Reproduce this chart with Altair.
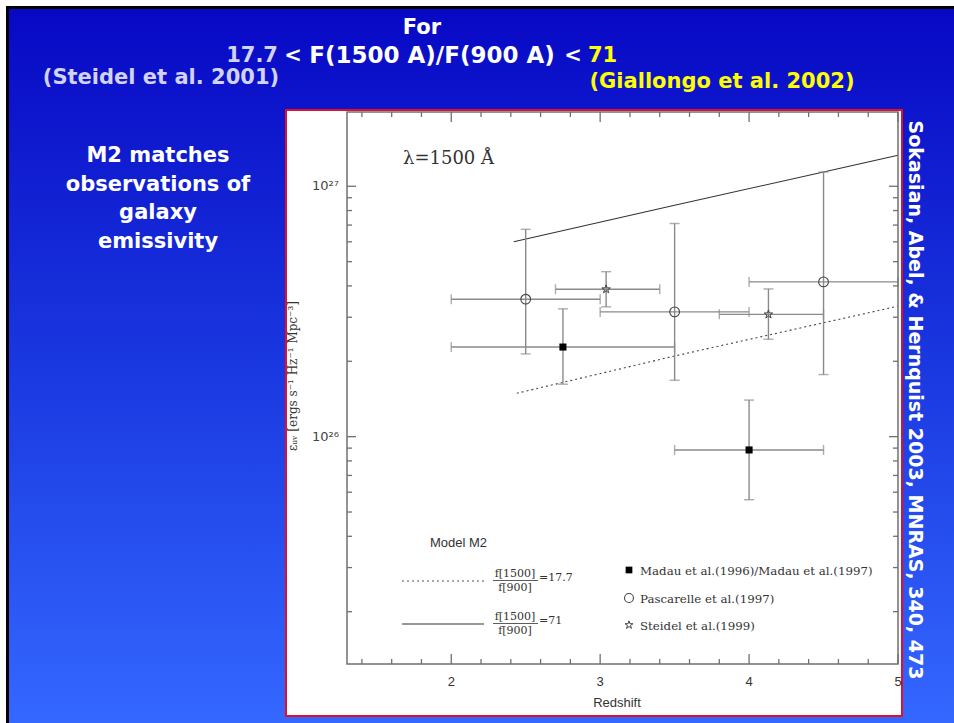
import altair as alt
import pandas as pd

# ---------------- data ----------------
madau_z = [2.75, 4.0]
madau_eps = [2.28e26, 8.85e25]
madau_zlo = [2.0, 3.5]
madau_zhi = [3.5, 4.5]
madau_elo = [1.62e26, 5.6e25]
madau_ehi = [3.24e26, 1.40e26]

pasc_z = [2.5, 3.5, 4.5]
pasc_eps = [3.54e26, 3.15e26, 4.15e26]
pasc_zlo = [2.0, 3.0, 4.0]
pasc_zhi = [3.0, 4.0, 5.0]
pasc_elo = [2.14e26, 1.68e26, 1.77e26]
pasc_ehi = [6.73e26, 7.10e26, 1.14e27]

steid_z = [3.04, 4.13]
steid_eps = [3.88e26, 3.08e26]
steid_zlo = [2.70, 3.80]
steid_zhi = [3.40, 4.50]
steid_elo = [3.30e26, 2.45e26]
steid_ehi = [4.56e26, 3.89e26]

m71_z = [2.42, 3.5, 4.5, 5.0]
m71_eps = [6.0e26, 8.4e26, 1.14e27, 1.33e27]
m177_z = [2.44, 3.5, 4.5, 5.0]
m177_eps = [1.49e26, 2.10e26, 2.85e26, 3.32e26]

x_major = [2, 3, 4, 5]
x_minor = [1.4, 1.6, 1.8, 2.2, 2.4, 2.6, 2.8, 3.2, 3.4, 3.6, 3.8, 4.2, 4.4, 4.6, 4.8]
x_labels = ["2", "3", "4", "5"]
y_major = [1e26, 1e27]
y_labels = ["10²⁶", "10²⁷"]
y_minor = [2e25, 3e25, 4e25, 5e25, 6e25, 7e25, 8e25, 9e25,
           2e26, 3e26, 4e26, 5e26, 6e26, 7e26, 8e26, 9e26]

# ---------------- tables ----------------
def pts(z, e, zlo, zhi, elo, ehi):
    return pd.DataFrame({"z": z, "eps": e, "zlo": zlo, "zhi": zhi, "elo": elo, "ehi": ehi})

madau = pts(madau_z, madau_eps, madau_zlo, madau_zhi, madau_elo, madau_ehi)
pasc = pts(pasc_z, pasc_eps, pasc_zlo, pasc_zhi, pasc_elo, pasc_ehi)
steid = pts(steid_z, steid_eps, steid_zlo, steid_zhi, steid_elo, steid_ehi)
allpts = pd.concat([madau, pasc, steid], ignore_index=True)

vcaps = pd.concat([
    pd.DataFrame({"z": allpts["zlo"], "eps": allpts["eps"]}),
    pd.DataFrame({"z": allpts["zhi"], "eps": allpts["eps"]}),
], ignore_index=True)
hcaps = pd.concat([
    pd.DataFrame({"z": allpts["z"], "eps": allpts["elo"]}),
    pd.DataFrame({"z": allpts["z"], "eps": allpts["ehi"]}),
], ignore_index=True)

m71 = pd.DataFrame({"z": m71_z, "eps": m71_eps})
m177 = pd.DataFrame({"z": m177_z, "eps": m177_eps})

xmaj = pd.DataFrame({"z": x_major, "lab": x_labels})
xmin = pd.DataFrame({"z": x_minor})
ymaj = pd.DataFrame({"eps": y_major, "lab": y_labels})
ymin = pd.DataFrame({"eps": y_minor})

one = pd.DataFrame({"a": [0]})

# ---------------- scales ----------------
L, R, T, B = 347, 898, 112, 664
xs = alt.Scale(domain=[1.3, 5.0], range=[L, R], nice=False, zero=False)
ys = alt.Scale(type="log", domain=[1.236e25, 1.98e27], range=[B, T], nice=False)

def X(f):
    return alt.X(f, type="quantitative", scale=xs, axis=None)

def Y(f):
    return alt.Y(f, type="quantitative", scale=ys, axis=None)

STAR = ("M0,-1L0.2245,-0.309L0.951,-0.309L0.363,0.118L0.588,0.809L0,0.382"
        "L-0.588,0.809L-0.363,0.118L-0.951,-0.309L-0.2245,-0.309Z")

layers = []

# ---------------- slide background ----------------
layers.append(alt.Chart(one).mark_rect(color="#000000").encode(
    x=alt.value(6), x2=alt.value(954), y=alt.value(6), y2=alt.value(723)))
grad = alt.Gradient(gradient="linear",
                    stops=[alt.GradientStop(color="#0808c4", offset=0),
                           alt.GradientStop(color="#1a38e0", offset=0.5),
                           alt.GradientStop(color="#3468ff", offset=1)],
                    x1=0, x2=0, y1=0, y2=1)
layers.append(alt.Chart(one).mark_rect(color=grad).encode(
    x=alt.value(9), x2=alt.value(954), y=alt.value(9), y2=alt.value(723)))
# white figure box with red border
layers.append(alt.Chart(one).mark_rect(fill="white", stroke="#e0102a", strokeWidth=2).encode(
    x=alt.value(286), x2=alt.value(902), y=alt.value(110), y2=alt.value(716)))

# ---------------- slide text ----------------
def txt(s, x, y, size, color, font, weight="normal", align="center",
        baseline="middle", angle=0):
    return [alt.Chart(one).mark_text(text=s, font=font, fontSize=size, fontWeight=weight,
                                     color=color, align=align, baseline=baseline,
                                     angle=angle).encode(
        x=alt.value(x), y=alt.value(y))]

SF = "DejaVu Sans"
LAV = "#d2d2f4"
YEL = "#ffff00"
layers += txt("For", 422, 28, 21, "white", SF, "bold")
layers += txt("17.7", 278, 56, 21, LAV, SF, "bold", align="right")
layers += txt("<", 293, 56, 21, "white", SF, "bold")
layers += txt("F(1500 A)/F(900 A)", 432, 56, 23, "white", SF, "bold")
layers += txt("<", 573, 56, 21, "white", SF, "bold")
layers += txt("71", 588, 56, 21, YEL, SF, "bold", align="left")
layers += txt("(Steidel et al. 2001)", 161, 78, 21, LAV, SF, "bold")
layers += txt("(Giallongo et al. 2002)", 722, 82, 21, YEL, SF, "bold")
for i, line in enumerate(["M2 matches", "observations of", "galaxy", "emissivity"]):
    layers += txt(line, 158, 156 + i * 28.5, 21, "white", SF, "bold")
layers += txt("Sokasian, Abel, & Hernquist 2003, MNRAS, 340, 473", 915, 400, 19, "white", SF,
              "bold", angle=90)

# ---------------- plot: model lines ----------------
layers.append(alt.Chart(m71).mark_line(color="#333333", strokeWidth=1.1).encode(
    x=X("z"), y=Y("eps")))
layers.append(alt.Chart(m177).mark_line(color="#444444", strokeWidth=1.1, strokeDash=[2, 3]).encode(
    x=X("z"), y=Y("eps")))

# ---------------- error bars ----------------
EB = "#8a8a8a"
layers.append(alt.Chart(allpts).mark_rule(color=EB, strokeWidth=1.4).encode(
    x=X("zlo"), x2="zhi", y=Y("eps")))
layers.append(alt.Chart(allpts).mark_rule(color=EB, strokeWidth=1.4).encode(
    x=X("z"), y=Y("elo"), y2="ehi"))
layers.append(alt.Chart(vcaps).mark_tick(orient="vertical", size=10, thickness=1.4, color=EB).encode(
    x=X("z"), y=Y("eps")))
layers.append(alt.Chart(hcaps).mark_tick(orient="horizontal", size=10, thickness=1.4, color=EB).encode(
    x=X("z"), y=Y("eps")))

# ---------------- markers ----------------
layers.append(alt.Chart(madau).mark_point(shape="square", filled=True, size=50, color="black", opacity=1).encode(
    x=X("z"), y=Y("eps")))
layers.append(alt.Chart(pasc).mark_point(shape="circle", filled=False, size=95, color="#444444",
                                         strokeWidth=1.1, opacity=1).encode(
    x=X("z"), y=Y("eps")))
layers.append(alt.Chart(steid).mark_point(shape=STAR, filled=False, size=80, color="#444444",
                                          strokeWidth=1.0, opacity=1).encode(
    x=X("z"), y=Y("eps")))

# ---------------- frame, ticks, labels ----------------
AX = "#707070"
layers.append(alt.Chart(one).mark_rect(fill="white", fillOpacity=0, stroke=AX, strokeWidth=1.5).encode(
    x=alt.value(L), x2=alt.value(R), y=alt.value(T), y2=alt.value(B)))
# x ticks (bottom and top, inward)
layers.append(alt.Chart(xmaj).mark_rule(color=AX, strokeWidth=1.3).encode(
    x=X("z"), y=alt.value(B), y2=alt.value(B - 10)))
layers.append(alt.Chart(xmin).mark_rule(color=AX, strokeWidth=1.3).encode(
    x=X("z"), y=alt.value(B), y2=alt.value(B - 5)))
layers.append(alt.Chart(xmaj).mark_rule(color=AX, strokeWidth=1.3).encode(
    x=X("z"), y=alt.value(T), y2=alt.value(T + 10)))
layers.append(alt.Chart(xmin).mark_rule(color=AX, strokeWidth=1.3).encode(
    x=X("z"), y=alt.value(T), y2=alt.value(T + 5)))
# y ticks (left and right, inward)
layers.append(alt.Chart(ymaj).mark_rule(color=AX, strokeWidth=1.3).encode(
    y=Y("eps"), x=alt.value(L), x2=alt.value(L + 9)))
layers.append(alt.Chart(ymin).mark_rule(color=AX, strokeWidth=1.3).encode(
    y=Y("eps"), x=alt.value(L), x2=alt.value(L + 5)))
layers.append(alt.Chart(ymaj).mark_rule(color=AX, strokeWidth=1.3).encode(
    y=Y("eps"), x=alt.value(R), x2=alt.value(R - 9)))
layers.append(alt.Chart(ymin).mark_rule(color=AX, strokeWidth=1.3).encode(
    y=Y("eps"), x=alt.value(R), x2=alt.value(R - 5)))
# tick labels
layers.append(alt.Chart(xmaj).mark_text(font="Liberation Sans", fontSize=13, color="#333333",
                                        baseline="middle").encode(
    x=X("z"), y=alt.value(682), text="lab:N"))
layers.append(alt.Chart(ymaj).mark_text(font="DejaVu Sans", fontSize=13, color="#444444",
                                        align="right", baseline="middle").encode(
    y=Y("eps"), x=alt.value(339), text="lab:N"))

PF = "Liberation Sans"
SER = "DejaVu Serif"
layers += txt("Redshift", 617, 703, 13, "#333333", PF)
layers += txt("εᵤᵥ [ergs s⁻¹ Hz⁻¹ Mpc⁻³]", 293, 376, 12, "#333333", SER, angle=270)
layers += txt("λ=1500   Å", 403, 159, 18, "#333333", SER, align="left")
layers += txt("Model M2", 430, 543, 13, "#333333", PF, align="left")

# model legend
layers.append(alt.Chart(one).mark_rule(color="#555555", strokeWidth=1.1, strokeDash=[2, 3]).encode(
    x=alt.value(402), x2=alt.value(484), y=alt.value(581)))
layers.append(alt.Chart(one).mark_rule(color="#333333", strokeWidth=1.1).encode(
    x=alt.value(402), x2=alt.value(484), y=alt.value(624)))
for (yc, val) in [(581, "=17.7"), (624, "=71")]:
    layers += txt("f[1500]", 515, yc - 7.5, 11, "#333333", SER)
    layers += txt("f[900]", 515, yc + 7, 11, "#333333", SER)
    layers.append(alt.Chart(one).mark_rule(color="#333333", strokeWidth=0.8).encode(
        x=alt.value(493), x2=alt.value(538), y=alt.value(yc - 0.5)))
    layers += txt(val, 539, yc - 3, 11, "#333333", SER, align="left")

# symbol legend
leg_y = [570, 598, 625]
leg_txt = ["Madau et al.(1996)/Madau et al.(1997)", "Pascarelle et al.(1997)", "Steidel et al.(1999)"]
layers.append(alt.Chart(one).mark_point(shape="square", filled=True, size=45, color="black", opacity=1).encode(
    x=alt.value(629), y=alt.value(leg_y[0])))
layers.append(alt.Chart(one).mark_point(shape="circle", filled=False, size=80, color="#444444",
                                        strokeWidth=1.1, opacity=1).encode(
    x=alt.value(629), y=alt.value(leg_y[1])))
layers.append(alt.Chart(one).mark_point(shape=STAR, filled=False, size=70, color="#444444",
                                        strokeWidth=1.0, opacity=1).encode(
    x=alt.value(629), y=alt.value(leg_y[2])))
for yy, s in zip(leg_y, leg_txt):
    layers += txt(s, 640, yy + 1, 11.8, "#333333", SER, align="left")

chart = alt.layer(*layers).properties(
    width=954, height=723,
    autosize=alt.AutoSizeParams(type="none"),
    padding=0,
    background="white",
).configure_view(strokeWidth=0)

chart.save("out.html", embed_options={"renderer": "svg", "actions": False})
